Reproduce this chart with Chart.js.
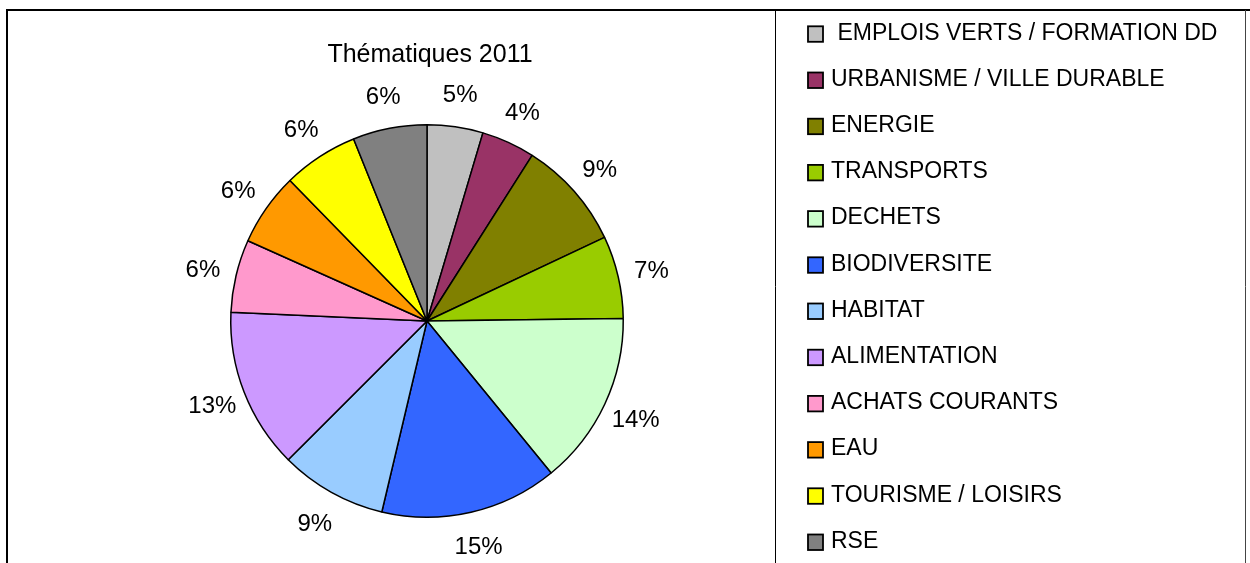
<!DOCTYPE html>
<html><head><meta charset="utf-8">
<script src="https://cdn.jsdelivr.net/npm/chart.js@4.4.0/dist/chart.umd.min.js"></script>
<style>html,body{margin:0;padding:0;background:#fff;overflow:hidden}#wrap{width:1250px;height:563px;position:relative}</style>
</head><body><div id="wrap"><canvas id="c" width="1250" height="563"></canvas></div>
<script>
// ---- data ----
const categories = [" EMPLOIS VERTS / FORMATION DD", "URBANISME / VILLE DURABLE", "ENERGIE", "TRANSPORTS", "DECHETS", "BIODIVERSITE", "HABITAT", "ALIMENTATION", "ACHATS COURANTS", "EAU", "TOURISME / LOISIRS", "RSE"];
const shares = [4.6, 4.4, 9.0, 6.8, 14.3, 14.6, 8.8, 13.2, 6.0, 6.0, 6.2, 6.1];
const sliceColors = ["#C0C0C0", "#993366", "#808000", "#99CC00", "#CCFFCC", "#3366FF", "#99CCFF", "#CC99FF", "#FF99CC", "#FF9900", "#FFFF00", "#808080"];
const chartTitle = "Thématiques 2011";

const FONT = '"Liberation Sans", Arial, sans-serif';

const framePlugin = {
  id: 'frame',
  beforeDraw(chart) {
    const ctx = chart.ctx;
    ctx.save();
    ctx.fillStyle = '#fff';
    ctx.fillRect(0, 0, chart.width, chart.height);
    ctx.strokeStyle = '#000';
    ctx.lineWidth = 2;
    ctx.beginPath();
    ctx.moveTo(6, 10); ctx.lineTo(1250, 10);
    ctx.moveTo(7, 9); ctx.lineTo(7, 563);
    ctx.stroke();
    ctx.lineWidth = 1;
    ctx.beginPath();
    ctx.moveTo(775.5, 10); ctx.lineTo(775.5, 563);
    ctx.stroke();
    ctx.strokeStyle = '#444';
    ctx.beginPath();
    ctx.moveTo(1245.5, 10); ctx.lineTo(1245.5, 563);
    ctx.stroke();
    ctx.restore();
  }
};

const titlePlugin = {
  id: 'titleText',
  afterDraw(chart) {
    const ctx = chart.ctx;
    ctx.save();
    ctx.fillStyle = '#000';
    ctx.font = '25px ' + FONT;
    ctx.textAlign = 'center';
    ctx.textBaseline = 'alphabetic';
    ctx.fillText(chartTitle, 430, 62);
    ctx.restore();
  }
};

const pctPlugin = {
  id: 'pctLabels',
  afterDatasetsDraw(chart) {
    const ctx = chart.ctx;
    const meta = chart.getDatasetMeta(0);
    const data = chart.data.datasets[0].data;
    const total = data.reduce((a, b) => a + b, 0);
    ctx.save();
    ctx.fillStyle = '#000';
    ctx.font = '24px ' + FONT;
    ctx.textAlign = 'center';
    ctx.textBaseline = 'alphabetic';
    meta.data.forEach((arc, i) => {
      const p = arc.getProps(['x', 'y', 'startAngle', 'endAngle', 'outerRadius'], true);
      const mid = (p.startAngle + p.endAngle) / 2;
      const r = p.outerRadius + 34;
      const x = p.x + Math.cos(mid) * r;
      const y = p.y + Math.sin(mid) * r;
      ctx.fillText(Math.round(data[i] / total * 100) + '%', x, y + 8.6);
    });
    ctx.restore();
  }
};

const legendPlugin = {
  id: 'sideLegend',
  afterDraw(chart) {
    const ctx = chart.ctx;
    const labels = chart.data.labels;
    const cols = chart.data.datasets[0].backgroundColor;
    ctx.save();
    ctx.font = '23px ' + FONT;
    ctx.textAlign = 'left';
    ctx.textBaseline = 'alphabetic';
    labels.forEach((lab, i) => {
      const cy = 31.3 + i * 46.2;
      ctx.fillStyle = cols[i];
      ctx.fillRect(808, cy - 5, 15, 15.5);
      ctx.strokeStyle = '#000';
      ctx.lineWidth = 1.8;
      ctx.strokeRect(808, cy - 5, 15, 15.5);
      ctx.fillStyle = '#000';
      ctx.fillText(lab, 831, cy + 8.3);
    });
    ctx.restore();
  }
};

new Chart(document.getElementById('c'), {
  type: 'pie',
  data: {
    labels: categories,
    datasets: [{
      data: shares,
      backgroundColor: sliceColors,
      borderColor: '#000',
      borderWidth: 1.5
    }]
  },
  options: {
    responsive: false,
    animation: false,
    layout: { padding: { left: 230, right: 626, top: 124, bottom: 45 } },
    plugins: {
      legend: { display: false },
      title: { display: false },
      tooltip: { enabled: false }
    }
  },
  plugins: [framePlugin, pctPlugin, titlePlugin, legendPlugin]
});
</script>
</body></html>
